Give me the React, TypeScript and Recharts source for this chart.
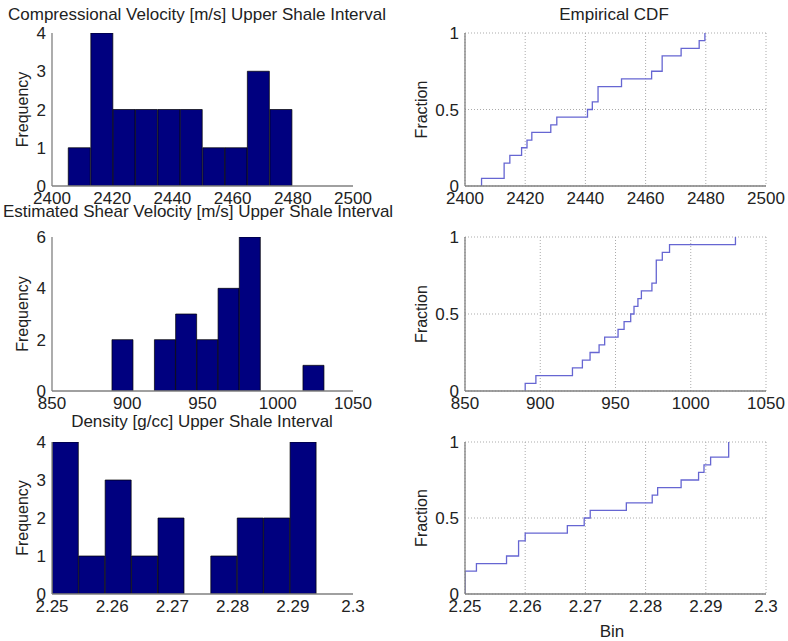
import { Bar, BarChart, CartesianGrid, Line, LineChart, XAxis, YAxis } from 'recharts';

// Compressional velocity (m/s)
const vpTicks = [2400, 2420, 2440, 2460, 2480, 2500];
const vpBinCenters = [2409.1, 2416.6, 2424.0, 2431.4, 2438.9, 2446.3, 2453.8, 2461.2, 2468.6, 2476.1];
const vpCounts = [1, 4, 2, 2, 2, 2, 1, 1, 3, 2];
const vpCdfX = [2405.5, 2413.0, 2414.9, 2418.8, 2420.6, 2422.2, 2428.5, 2430.5, 2440.7, 2442.3, 2444.2, 2452.0, 2462.0, 2465.5, 2471.8, 2477.8, 2479.7];
const vpCdfFrac = [0.05, 0.15, 0.2, 0.25, 0.3, 0.35, 0.4, 0.45, 0.5, 0.55, 0.65, 0.7, 0.75, 0.85, 0.9, 0.95, 1];

// Estimated shear velocity (m/s)
const vsTicks = [850, 900, 950, 1000, 1050];
const vsBinCenters = [896.9, 911.0, 925.1, 939.2, 953.3, 967.4, 981.5, 995.6, 1009.7, 1023.8];
const vsCounts = [2, 0, 2, 3, 2, 4, 6, 0, 0, 1];
const vsCdfX = [890.0, 897.1, 921.4, 928.0, 933.1, 939.1, 942.8, 951.7, 955.7, 960.1, 962.3, 964.9, 967.2, 974.2, 977.1, 981.1, 985.9, 1029.7];
const vsCdfFrac = [0.05, 0.1, 0.15, 0.2, 0.25, 0.3, 0.35, 0.4, 0.45, 0.5, 0.55, 0.6, 0.65, 0.7, 0.85, 0.9, 0.95, 1];

// Density (g/cc)
const rhoTicks = [2.25, 2.26, 2.27, 2.28, 2.29, 2.3];
const rhoBinCenters = [2.25224, 2.25663, 2.26102, 2.26541, 2.2698, 2.27418, 2.27857, 2.28296, 2.28735, 2.29174];
const rhoCounts = [4, 1, 3, 1, 2, 0, 1, 2, 2, 4];
const rhoCdfX = [2.25, 2.2519, 2.2569, 2.2589, 2.26, 2.267, 2.2698, 2.2708, 2.2768, 2.2811, 2.282, 2.2859, 2.2888, 2.2897, 2.2908, 2.2938];
const rhoCdfFrac = [0.15, 0.2, 0.25, 0.35, 0.4, 0.45, 0.5, 0.55, 0.6, 0.65, 0.7, 0.75, 0.8, 0.85, 0.9, 1];

const freqTicks4 = [0, 1, 2, 3, 4];
const freqTicks6 = [0, 2, 4, 6];
const fracTicks = [0, 0.5, 1];

const FONT = '"Liberation Sans", Arial, sans-serif';
const TEXT = '#222';
const BAR_FILL = '#00007f';
const CDF_STROKE = '#6666d2';
const BOX = '#808080';

const MARGIN_TOP = 10;
const MARGIN_RIGHT = 22;
const X_AXIS_H = 26;
const PLOT_W = 301;

const tickStyle = { fontSize: 17, fill: TEXT, fontFamily: FONT };
const boxLine = { stroke: BOX, strokeWidth: 1.3 };

function toBins(centers: number[], counts: number[]) {
  return centers.map((x, i) => ({ x, count: counts[i] }));
}

function toSteps(xs: number[], fracs: number[]) {
  return [{ x: xs[0], frac: 0 }, ...xs.map((x, i) => ({ x, frac: fracs[i] }))];
}

interface PanelProps {
  left: number;
  top: number;
  height: number;
  axisWidth: number;
  labelOffset: number;
  xTicks: number[];
  yTicks: number[];
}

function yLabel(value: string, offset: number) {
  return {
    value,
    angle: -90,
    position: 'insideLeft' as const,
    offset,
    style: { textAnchor: 'middle', fontSize: 16, fill: TEXT, fontFamily: FONT },
  };
}

// bottom/left axes carry the labels, top/right ones only close the box
function Axes({ xTicks, yTicks, axisWidth, label, labelOffset }: any) {
  const xDomain = [xTicks[0], xTicks[xTicks.length - 1]];
  const yDomain = [yTicks[0], yTicks[yTicks.length - 1]];
  return [
    <XAxis
      key="xb"
      dataKey="x"
      type="number"
      domain={xDomain}
      ticks={xTicks}
      interval={0}
      allowDataOverflow
      height={X_AXIS_H}
      tickLine={false}
      tickSize={6}
      tickMargin={0}
      tick={tickStyle}
      axisLine={boxLine}
    />,
    <XAxis
      key="xt"
      xAxisId="top"
      orientation="top"
      dataKey="x"
      type="number"
      domain={xDomain}
      allowDataOverflow
      height={0}
      tick={false}
      tickLine={false}
      axisLine={boxLine}
    />,
    <YAxis
      key="yl"
      type="number"
      domain={yDomain}
      ticks={yTicks}
      interval={0}
      allowDataOverflow
      width={axisWidth}
      tickLine={false}
      tickSize={6}
      tickMargin={0}
      tick={tickStyle}
      axisLine={boxLine}
      label={yLabel(label, labelOffset)}
    />,
    <YAxis
      key="yr"
      yAxisId="right"
      orientation="right"
      type="number"
      domain={yDomain}
      allowDataOverflow
      width={0}
      tick={false}
      tickLine={false}
      axisLine={boxLine}
    />,
  ];
}

function HistogramPanel({ left, top, height, axisWidth, labelOffset, xTicks, yTicks, data }: PanelProps & { data: { x: number; count: number }[] }) {
  return (
    <div style={{ position: 'absolute', left, top: top - MARGIN_TOP }}>
      <BarChart
        width={axisWidth + PLOT_W + MARGIN_RIGHT}
        height={MARGIN_TOP + height + X_AXIS_H}
        data={data}
        margin={{ top: MARGIN_TOP, right: MARGIN_RIGHT, bottom: 0, left: 0 }}
        barCategoryGap={0}
        barGap={0}
      >
        {Axes({ xTicks, yTicks, axisWidth, label: 'Frequency', labelOffset })}
        <Bar dataKey="count" fill={BAR_FILL} stroke="#000" strokeWidth={0.7} isAnimationActive={false} />
      </BarChart>
    </div>
  );
}

function CdfPanel({ left, top, height, axisWidth, labelOffset, xTicks, yTicks, data }: PanelProps & { data: { x: number; frac: number }[] }) {
  return (
    <div style={{ position: 'absolute', left, top: top - MARGIN_TOP }}>
      <LineChart
        width={axisWidth + PLOT_W + MARGIN_RIGHT}
        height={MARGIN_TOP + height + X_AXIS_H}
        data={data}
        margin={{ top: MARGIN_TOP, right: MARGIN_RIGHT, bottom: 0, left: 0 }}
      >
        <CartesianGrid stroke="#ababab" strokeDasharray="1 2" />
        {Axes({ xTicks, yTicks, axisWidth, label: 'Fraction', labelOffset })}
        <Line
          type="stepAfter"
          dataKey="frac"
          stroke={CDF_STROKE}
          strokeWidth={1.3}
          dot={false}
          isAnimationActive={false}
        />
      </LineChart>
    </div>
  );
}

function Title({ text, cx, top }: { text: string; cx: number; top: number }) {
  return (
    <div
      style={{
        position: 'absolute',
        left: cx - 220,
        top,
        width: 440,
        textAlign: 'center',
        fontSize: 17,
        lineHeight: '17px',
        color: TEXT,
        fontFamily: FONT,
        whiteSpace: 'nowrap',
      }}
    >
      {text}
    </div>
  );
}

export default function App() {
  const rows = [
    { top: 33, height: 153, xTicks: vpTicks, yTicks: freqTicks4, bins: toBins(vpBinCenters, vpCounts), cdf: toSteps(vpCdfX, vpCdfFrac) },
    { top: 237, height: 154, xTicks: vsTicks, yTicks: freqTicks6, bins: toBins(vsBinCenters, vsCounts), cdf: toSteps(vsCdfX, vsCdfFrac) },
    { top: 442, height: 152, xTicks: rhoTicks, yTicks: freqTicks4, bins: toBins(rhoBinCenters, rhoCounts), cdf: toSteps(rhoCdfX, rhoCdfFrac) },
  ];

  return (
    <div style={{ position: 'absolute', left: 0, top: 0, width: 788, height: 641, background: '#fff', overflow: 'hidden' }}>
      {rows.map((row, i) => (
        <div key={i}>
          <HistogramPanel
            left={0}
            top={row.top}
            height={row.height}
            axisWidth={52}
            labelOffset={22}
            xTicks={row.xTicks}
            yTicks={row.yTicks}
            data={row.bins}
          />
          <CdfPanel
            left={394}
            top={row.top}
            height={row.height}
            axisWidth={71}
            labelOffset={27}
            xTicks={row.xTicks}
            yTicks={fracTicks}
            data={row.cdf}
          />
        </div>
      ))}
      <Title text="Compressional Velocity [m/s] Upper Shale Interval" cx={197} top={6} />
      <Title text="Empirical CDF" cx={614} top={6} />
      <Title text="Estimated Shear Velocity [m/s] Upper Shale Interval" cx={198} top={203} />
      <Title text="Density [g/cc] Upper Shale Interval" cx={202} top={413} />
      <Title text="Bin" cx={612} top={623} />
    </div>
  );
}
